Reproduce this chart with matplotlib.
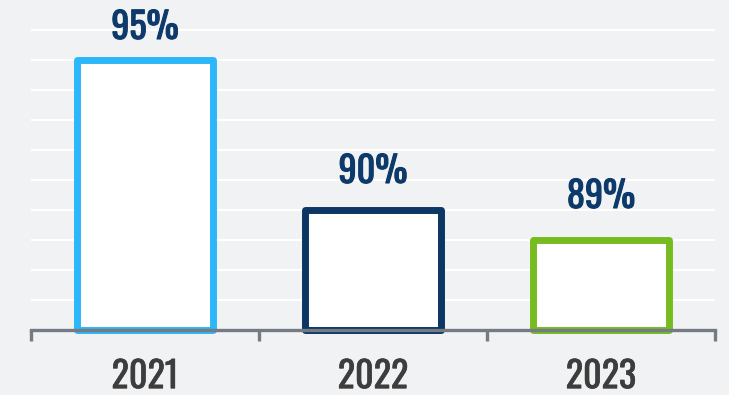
import matplotlib
matplotlib.use("Agg")
import matplotlib.pyplot as plt
import matplotlib.patheffects as pe

years = ["2021", "2022", "2023"]
rates = [95, 90, 89]
bar_colors = ["#2db7fb", "#0c3764", "#77bc1f"]
label_lift = [21, 27, 32]  # pixels above each bar top

family = ["Oswald", "DejaVu Sans"]
bg = "#f1f2f4"
axis_grey = "#737b85"


def heavier(color, lw=0.8):
    # Oswald ships only in regular here; a thin outline thickens the strokes
    return [pe.withStroke(linewidth=lw, foreground=color)]


fig = plt.figure(figsize=(7.29, 3.95), dpi=100, facecolor=bg)
ax = fig.add_axes([31 / 729, 65 / 395, 684 / 729, 330 / 395], facecolor=bg)

x = list(range(len(years)))
ax.set_xlim(-0.5, len(years) - 0.5)
ax.set_ylim(86, 97)

for y in range(87, 97):
    ax.axhline(y, color="white", lw=1.5, zorder=1)

bars = ax.bar(x, [r - 86 for r in rates], bottom=86, width=0.6, color="white",
              edgecolor=bar_colors, linewidth=5, zorder=2, clip_on=False)
for b in bars:
    b.set_joinstyle("round")

for xi, r, lift in zip(x, rates, label_lift):
    ax.annotate(f"{r}%", (xi, r), xytext=(0, lift), textcoords="offset pixels",
                ha="center", va="baseline", fontsize=26, color="#0d3a6b",
                family=family, path_effects=heavier("#0d3a6b"))

for s in ["top", "left", "right"]:
    ax.spines[s].set_visible(False)
ax.spines["bottom"].set_color(axis_grey)
ax.spines["bottom"].set_linewidth(2.4)
ax.spines["bottom"].set_zorder(3)

ax.set_yticks([])
ax.set_xticks(x)
ax.set_xticklabels(years, family=family, fontsize=26, color="#3d3d3d")
for t in ax.get_xticklabels():
    t.set_path_effects(heavier("#3d3d3d", 0.5))
ax.tick_params(axis="x", which="major", length=0, pad=21)
ax.set_xticks([-0.5, 0.5, 1.5, 2.5], minor=True)
ax.tick_params(axis="x", which="minor", length=8, width=2.4, color=axis_grey)

fig.savefig("out.png", dpi=100, facecolor=bg)
